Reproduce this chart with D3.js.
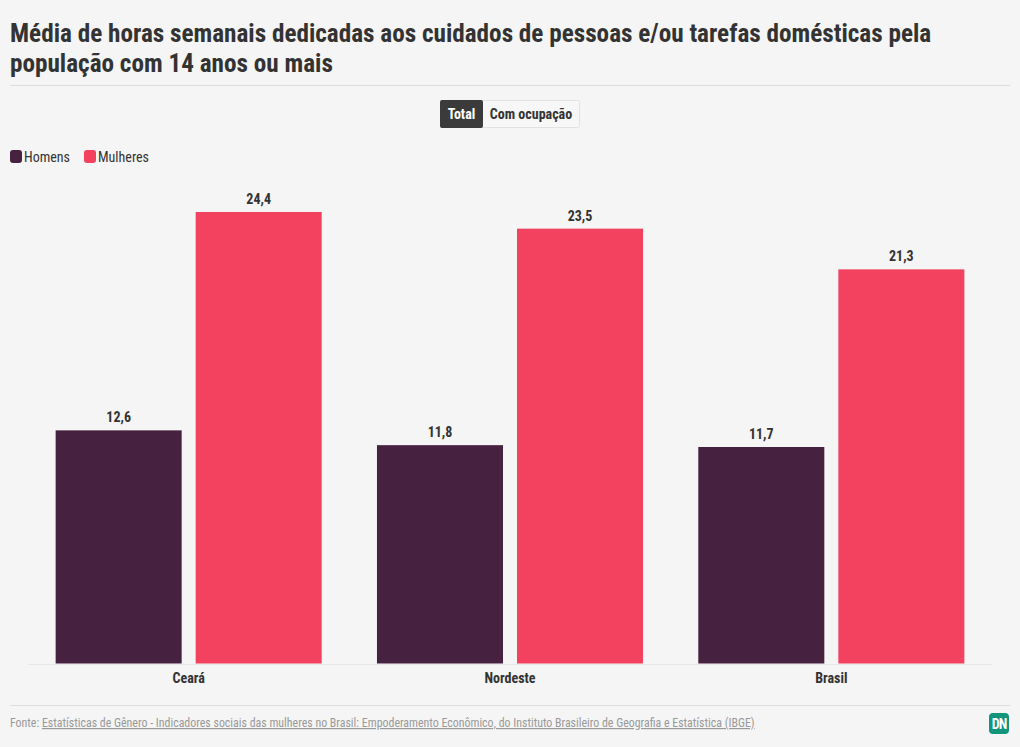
<!DOCTYPE html>
<html>
<head>
<meta charset="utf-8">
<script src="https://cdn.jsdelivr.net/npm/d3@7"></script>
<style>
  html, body { margin: 0; padding: 0; background: #f5f5f5; }
  svg { display: block; font-family: "Roboto Condensed", "Liberation Sans Narrow", "DejaVu Sans Condensed", sans-serif; }
</style>
</head>
<body>
<svg id="chart" width="1020" height="747"></svg>
<script>
const categories = ["Ceará", "Nordeste", "Brasil"];
const seriesNames = ["Homens", "Mulheres"];
const homens = [12.6, 11.8, 11.7];
const mulheres = [24.4, 23.5, 21.3];
const colors = ["#472240", "#f3425f"];
const titleLines = ["Média de horas semanais dedicadas aos cuidados de pessoas e/ou tarefas domésticas pela", "população com 14 anos ou mais"];
const toggleLabels = ["Total", "Com ocupação"];
const sourceText = "Estatísticas de Gênero - Indicadores sociais das mulheres no Brasil: Empoderamento Econômico, do Instituto Brasileiro de Geografia e Estatística (IBGE)";

const svg = d3.select("#chart");
const W = 1020, H = 747;
svg.append("rect").attr("width", W).attr("height", H).attr("fill", "#f5f5f5");

// Title
const title = svg.append("text").attr("fill", "#333").attr("font-weight", 700).attr("font-size", 25.2);
titleLines.forEach((l, i) => title.append("tspan").attr("x", 10).attr("y", 42 + i * 30).text(l));
svg.append("line").attr("x1", 10).attr("x2", 1010).attr("y1", 85.5).attr("y2", 85.5).attr("stroke", "#ddd");

// Toggle
const tg = svg.append("g");
tg.append("rect").attr("x", 440.5).attr("y", 100.5).attr("width", 139).attr("height", 27).attr("rx", 2)
  .attr("fill", "#f7f7f7").attr("stroke", "#e2e2e2");
tg.append("rect").attr("x", 440).attr("y", 100).attr("width", 43).attr("height", 28).attr("rx", 2).attr("fill", "#3b3b3b");
tg.append("text").attr("x", 461.5).attr("y", 119).attr("text-anchor", "middle").attr("fill", "#fff")
  .attr("font-weight", 700).attr("font-size", 14).text(toggleLabels[0]);
tg.append("text").attr("x", 531).attr("y", 119).attr("text-anchor", "middle").attr("fill", "#333")
  .attr("font-weight", 700).attr("font-size", 14).text(toggleLabels[1]);

// Legend
const legendX = [10, 84];
seriesNames.forEach((s, i) => {
  const g = svg.append("g").attr("transform", `translate(${legendX[i]},150)`);
  g.append("rect").attr("width", 12).attr("height", 13).attr("rx", 3).attr("fill", colors[i]);
  g.append("text").attr("x", 14).attr("y", 11.5).attr("font-size", 14).attr("fill", "#333").text(s);
});

// Scales
const x0 = d3.scaleBand().domain(categories).range([28, 992]).paddingInner(0.172).paddingOuter(0.086);
const x1 = d3.scaleBand().domain(seriesNames).range([0, x0.bandwidth()]).paddingInner(0.1);
const y = d3.scaleLinear().domain([0, 24.4]).range([663.5, 212]);

const data = categories.map((c, i) => ({ cat: c, vals: [homens[i], mulheres[i]] }));

const groups = svg.append("g").selectAll("g").data(data).join("g")
  .attr("transform", d => `translate(${x0(d.cat)},0)`);

groups.selectAll("rect").data(d => d.vals.map((v, i) => ({ s: seriesNames[i], v, i })))
  .join("rect")
  .attr("x", d => x1(d.s)).attr("width", x1.bandwidth())
  .attr("y", d => y(d.v)).attr("height", d => y(0) - y(d.v))
  .attr("fill", d => colors[d.i]);

groups.selectAll("text.val").data(d => d.vals.map((v, i) => ({ s: seriesNames[i], v, i })))
  .join("text").attr("class", "val")
  .attr("x", d => x1(d.s) + x1.bandwidth() / 2).attr("y", d => y(d.v) - 8)
  .attr("text-anchor", "middle").attr("font-weight", 700).attr("font-size", 14).attr("fill", "#333")
  .text(d => d3.format(".1f")(d.v).replace(".", ","));

// Axis
const axis = svg.append("g").attr("transform", "translate(0,664)")
  .call(d3.axisBottom(x0).tickSize(0).tickPadding(9));
axis.attr("font-family", null).attr("font-size", null);
axis.select(".domain").attr("stroke", "#e6e6e6");
axis.selectAll("text").attr("font-size", 14).attr("font-weight", 700).attr("fill", "#333");

// Footer
svg.append("line").attr("x1", 10).attr("x2", 1010).attr("y1", 705.5).attr("y2", 705.5).attr("stroke", "#ddd");
const ft = svg.append("text").attr("x", 10).attr("y", 727).attr("font-size", 11.9).attr("fill", "#999");
ft.append("tspan").text("Fonte: ");
ft.append("tspan").attr("text-decoration", "underline").text(sourceText);

const logo = svg.append("g").attr("transform", "translate(989,713)");
logo.append("rect").attr("width", 20).attr("height", 21).attr("rx", 4).attr("fill", "#12957a");
logo.append("text").attr("x", 10).attr("y", 15.5).attr("text-anchor", "middle").attr("fill", "#fff")
  .attr("font-weight", 700).attr("font-size", 14).attr("letter-spacing", -1).text("DN");
</script>
</body>
</html>
